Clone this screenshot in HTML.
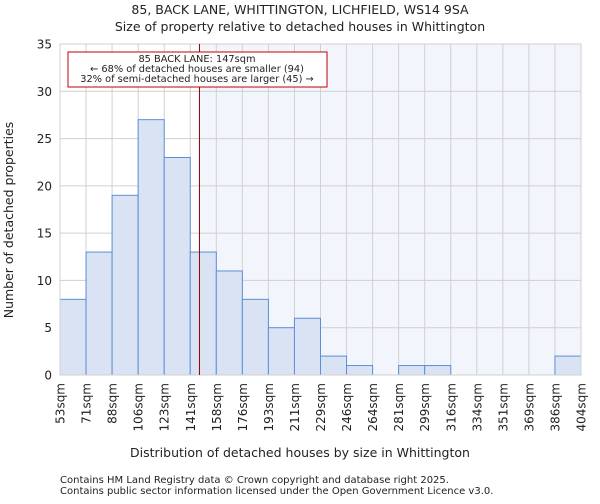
<!DOCTYPE html>
<html><head><meta charset="utf-8"><style>
body{margin:0;background:#fff;font-family:"DejaVu Sans","Liberation Sans",sans-serif}
svg text{font-family:"DejaVu Sans","Liberation Sans",sans-serif;fill:#222}
</style></head><body>
<svg id="c" width="600" height="500" xmlns="http://www.w3.org/2000/svg"></svg>
<script>
const categories=["53sqm","71sqm","88sqm","106sqm","123sqm","141sqm","158sqm","176sqm","193sqm","211sqm","229sqm","246sqm","264sqm","281sqm","299sqm","316sqm","334sqm","351sqm","369sqm","386sqm","404sqm"];
const binStarts=[53,71,88,106,123,141,158,176,193,211,229,246,264,281,299,316,334,351,369,386,404];
const counts=[8,13,19,27,23,13,11,8,5,6,2,1,0,1,1,0,0,0,0,2];
const yTicks=[0,5,10,15,20,25,30,35];
const marker=147;
const L=60,R=581,T=44,B=375,yMax=35;
const svg=document.getElementById('c');
const NS='http://www.w3.org/2000/svg';
function mk(t,a,p){const e=document.createElementNS(NS,t);for(const k in a)e.setAttribute(k,a[k]);(p||svg).appendChild(e);return e;}
const n=counts.length,bw=(R-L)/n;
const xIdx=i=>L+i*bw;
const xVal=v=>{let i=0;while(i<n-1&&v>=binStarts[i+1])i++;return xIdx(i)+(v-binStarts[i])/(binStarts[i+1]-binStarts[i])*bw;};
const y=v=>B-v/yMax*(B-T);
const mx=xVal(marker);
let g=mk('rect',{x:mx,y:T,width:R-mx,height:B-T,fill:'#f3f5fc'});

yTicks.forEach(t=>{const l=mk('line',{x1:L,x2:R,y1:y(t),y2:y(t),stroke:'#d0d0d0','stroke-width':1});

const tx=mk('text',{x:L-8,y:y(t)+4.5,'text-anchor':'end','font-size':12});tx.textContent=t;
});
categories.forEach((c,i)=>{const x=xIdx(i);const l=mk('line',{x1:x,x2:x,y1:T,y2:B,stroke:'#d0d0d0','stroke-width':1});

const tx=mk('text',{x:x+4.5,y:B+8,'text-anchor':'end','font-size':12,transform:`rotate(-90 ${x+4.5} ${B+8})`});tx.textContent=c;
});
counts.forEach((v,i)=>{if(v<=0)return;const r=mk('rect',{x:xIdx(i),y:y(v),width:bw,height:B-y(v),fill:'#dae3f3',stroke:'#5b8fd6','stroke-width':1});
});
let ax=mk('rect',{x:L,y:T,width:R-L,height:B-T,fill:'none',stroke:'#d0d0d0'});

let ml=mk('line',{x1:mx,x2:mx,y1:T,y2:B,stroke:'#8b0000','stroke-width':1});

let box=mk('rect',{x:68,y:52,width:259,height:35,fill:'#fff',stroke:'#c00000','stroke-width':1});

[["85 BACK LANE: 147sqm",62],["← 68% of detached houses are smaller (94)",72],["32% of semi-detached houses are larger (45) →",82]].forEach(a=>{
const t=mk('text',{x:197,y:a[1],'text-anchor':'middle','font-size':9.8});t.textContent=a[0];
});
function txt(s,a,name){const t=mk('text',a);t.textContent=s;}
txt("85, BACK LANE, WHITTINGTON, LICHFIELD, WS14 9SA",{x:300,y:14,'text-anchor':'middle','font-size':12.5},'chart-title');
txt("Size of property relative to detached houses in Whittington",{x:300,y:31,'text-anchor':'middle','font-size':12.5},'chart-subtitle');
txt("Distribution of detached houses by size in Whittington",{x:300,y:457,'text-anchor':'middle','font-size':12.5},'x-axis-title');
txt("Number of detached properties",{x:13,y:220,'text-anchor':'middle','font-size':12.5,transform:'rotate(-90 13 220)'},'y-axis-title');
txt("Contains HM Land Registry data © Crown copyright and database right 2025.",{x:60,y:483,'font-size':10,fill:'#444'},'footer-line-1');
txt("Contains public sector information licensed under the Open Government Licence v3.0.",{x:60,y:494,'font-size':10},'footer-line-2');
</script></body></html>
